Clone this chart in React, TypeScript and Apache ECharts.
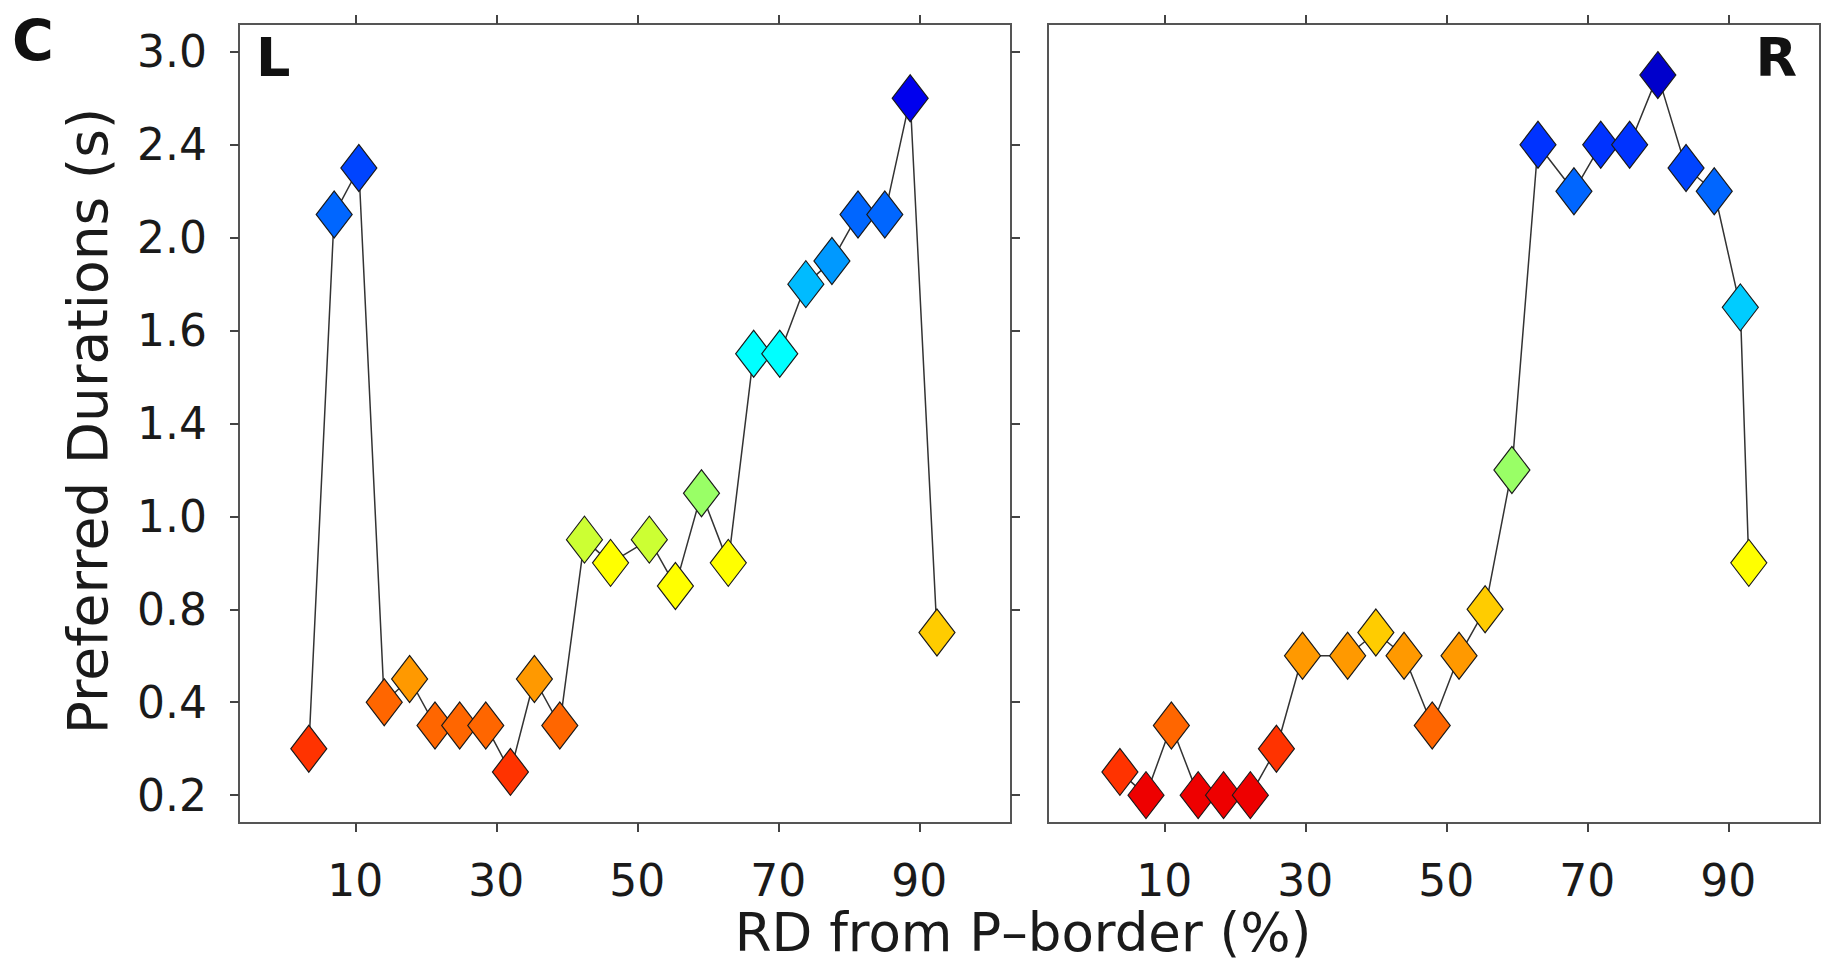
import React, { useEffect, useRef } from "react";
import * as echarts from "echarts";

// ---- Data ----
const X_TICKS = [10, 30, 50, 70, 90];
const Y_TICK_VALUES = [0.2, 0.4, 0.8, 1.0, 1.4, 1.6, 2.0, 2.4, 3.0];
const Y_TICK_LABELS = ["0.2", "0.4", "0.8", "1.0", "1.4", "1.6", "2.0", "2.4", "3.0"];

const L_X = [3.4, 7.0, 10.5, 14.1, 17.7, 21.3, 24.8, 28.5, 32.0, 35.4, 39.0, 42.5, 46.2, 51.7, 55.4, 59.1, 62.9, 66.5, 70.2, 73.9, 77.6, 81.3, 85.1, 88.7, 92.5];
const L_Y = [0.3, 2.1, 2.3, 0.4, 0.5, 0.35, 0.35, 0.35, 0.25, 0.5, 0.35, 0.95, 0.9, 0.95, 0.85, 1.1, 0.9, 1.55, 1.55, 1.8, 1.9, 2.1, 2.1, 2.7, 0.7];

const R_X = [3.7, 7.4, 11.0, 14.8, 18.4, 22.2, 25.9, 29.6, 36.0, 40.0, 44.0, 48.0, 51.8, 55.5, 59.3, 63.0, 68.1, 71.9, 76.0, 80.0, 84.0, 88.0, 91.7, 92.9];
const R_Y = [0.25, 0.2, 0.35, 0.2, 0.2, 0.2, 0.3, 0.6, 0.6, 0.7, 0.6, 0.35, 0.6, 0.8, 1.2, 2.4, 2.2, 2.4, 2.4, 2.85, 2.3, 2.2, 1.7, 0.9];

const COLOR_PIECES = [
  { lte: 0.22, color: "#ee0000" },
  { gt: 0.22, lte: 0.32, color: "#ff3300" },
  { gt: 0.32, lte: 0.45, color: "#ff6600" },
  { gt: 0.45, lte: 0.65, color: "#ff9900" },
  { gt: 0.65, lte: 0.82, color: "#ffcc00" },
  { gt: 0.82, lte: 0.92, color: "#ffff00" },
  { gt: 0.92, lte: 1.0, color: "#ccff33" },
  { gt: 1.0, lte: 1.3, color: "#99ff66" },
  { gt: 1.3, lte: 1.6, color: "#00ffff" },
  { gt: 1.6, lte: 1.75, color: "#00ccff" },
  { gt: 1.75, lte: 1.85, color: "#00bbff" },
  { gt: 1.85, lte: 2.0, color: "#0099ff" },
  { gt: 2.0, lte: 2.25, color: "#0066ff" },
  { gt: 2.25, lte: 2.35, color: "#0044ff" },
  { gt: 2.35, lte: 2.5, color: "#0033ff" },
  { gt: 2.5, lte: 2.8, color: "#0000ee" },
  { gt: 2.8, color: "#0000cc" },
];

// piecewise-linear map of a value onto the evenly spaced tick positions
function toAxis(v: number): number {
  const V = Y_TICK_VALUES;
  for (let i = 0; i < V.length - 1; i++) {
    if (v <= V[i + 1]) return i + (v - V[i]) / (V[i + 1] - V[i]);
  }
  return V.length - 1;
}

const FONT = "DejaVu Sans";
const TICK_IDX = Y_TICK_VALUES.map((_, i) => i);

export default function App() {
  const ref = useRef<HTMLDivElement>(null);
  useEffect(() => {
    if (!ref.current) return;
    const chart = echarts.init(ref.current, undefined, { renderer: "svg" });
    const lData = L_X.map((x, i) => [x, toAxis(L_Y[i]), L_Y[i]]);
    const rData = R_X.map((x, i) => [x, toAxis(R_Y[i]), R_Y[i]]);

    const tickStyle = { color: "#444", width: 2 };
    const xBase = (gridIndex: number, position: string, labels: boolean) => ({
      type: "value",
      gridIndex,
      position,
      min: -6.5,
      max: 103,
      axisLine: { show: false, onZero: false },
      splitLine: { show: false },
      axisTick: { show: true, inside: false, length: 9, customValues: X_TICKS, lineStyle: tickStyle },
      axisLabel: {
        show: labels,
        customValues: X_TICKS,
        fontSize: 44,
        fontFamily: FONT,
        color: "#1a1a1a",
        margin: 35,
      },
    });
    const yBase = (gridIndex: number, position: string, labels: boolean, ticks: boolean) => ({
      type: "value",
      gridIndex,
      position,
      min: -0.3,
      max: 8.3,
      axisLine: { show: false, onZero: false },
      splitLine: { show: false },
      axisTick: { show: ticks, inside: false, length: 9, customValues: TICK_IDX, lineStyle: tickStyle },
      axisLabel: {
        show: labels,
        customValues: TICK_IDX,
        formatter: (v: number) => Y_TICK_LABELS[Math.round(v)],
        fontSize: 44,
        fontFamily: FONT,
        color: "#1a1a1a",
        margin: 32,
      },
    });

    const gridBase = { top: 24, width: 772, height: 799, show: true, borderColor: "#555", borderWidth: 2, backgroundColor: "rgba(0,0,0,0)" };

    const scatterStyle = {
      type: "scatter",
      symbol: "diamond",
      symbolSize: [36, 47],
      itemStyle: { borderColor: "#1a1a1a", borderWidth: 1.2, opacity: 1 },
      z: 3,
    };
    const lineStyle = {
      type: "line",
      symbol: "none",
      showSymbol: false,
      lineStyle: { color: "#333", width: 1.5 },
      z: 2,
    };

    chart.setOption({
      animation: false,
      backgroundColor: "#fff",
      textStyle: { fontFamily: FONT },
      grid: [
        { ...gridBase, left: 239 },
        { ...gridBase, left: 1048 },
      ],
      xAxis: [xBase(0, "bottom", true), xBase(1, "bottom", true), xBase(0, "top", false), xBase(1, "top", false)],
      yAxis: [yBase(0, "left", true, true), yBase(1, "left", false, false), yBase(0, "right", false, true)],
      visualMap: {
        type: "piecewise",
        show: false,
        dimension: 2,
        seriesIndex: [1, 3],
        pieces: COLOR_PIECES,
      },
      series: [
        { ...lineStyle, name: "L line", xAxisIndex: 0, yAxisIndex: 0, data: lData },
        { ...scatterStyle, name: "L", xAxisIndex: 0, yAxisIndex: 0, data: lData },
        { ...lineStyle, name: "R line", xAxisIndex: 1, yAxisIndex: 1, data: rData },
        { ...scatterStyle, name: "R", xAxisIndex: 1, yAxisIndex: 1, data: rData },
      ],
      graphic: [
        {
          type: "text",
          x: 12,
          y: 41,
          style: { text: "C", fontSize: 57, fontWeight: "bold", fontFamily: FONT, fill: "#111", align: "left", verticalAlign: "middle", textAlign: "left", textVerticalAlign: "middle" },
        },
        {
          type: "text",
          x: 256,
          y: 57,
          style: { text: "L", fontSize: 54, fontWeight: "bold", fontFamily: FONT, fill: "#111", align: "left", verticalAlign: "middle", textAlign: "left", textVerticalAlign: "middle" },
        },
        {
          type: "text",
          x: 1797,
          y: 57,
          style: { text: "R", fontSize: 54, fontWeight: "bold", fontFamily: FONT, fill: "#111", align: "right", verticalAlign: "middle", textAlign: "right", textVerticalAlign: "middle" },
        },
        {
          type: "text",
          x: 88,
          y: 421,
          rotation: Math.PI / 2,
          style: { text: "Preferred Durations (s)", fontSize: 55, fontFamily: FONT, fill: "#1a1a1a", align: "center", verticalAlign: "middle", textAlign: "center", textVerticalAlign: "middle" },
        },
        {
          type: "text",
          x: 1023,
          y: 932,
          style: { text: "RD from P\u2013border (%)", fontSize: 53, fontFamily: FONT, fill: "#1a1a1a", align: "center", verticalAlign: "middle", textAlign: "center", textVerticalAlign: "middle" },
        },
      ],
    });
    return () => chart.dispose();
  }, []);

  return (
    <div
      ref={ref}
      style={{ position: "absolute", left: 0, top: 0, width: 1834, height: 963, background: "#fff" }}
    />
  );
}
